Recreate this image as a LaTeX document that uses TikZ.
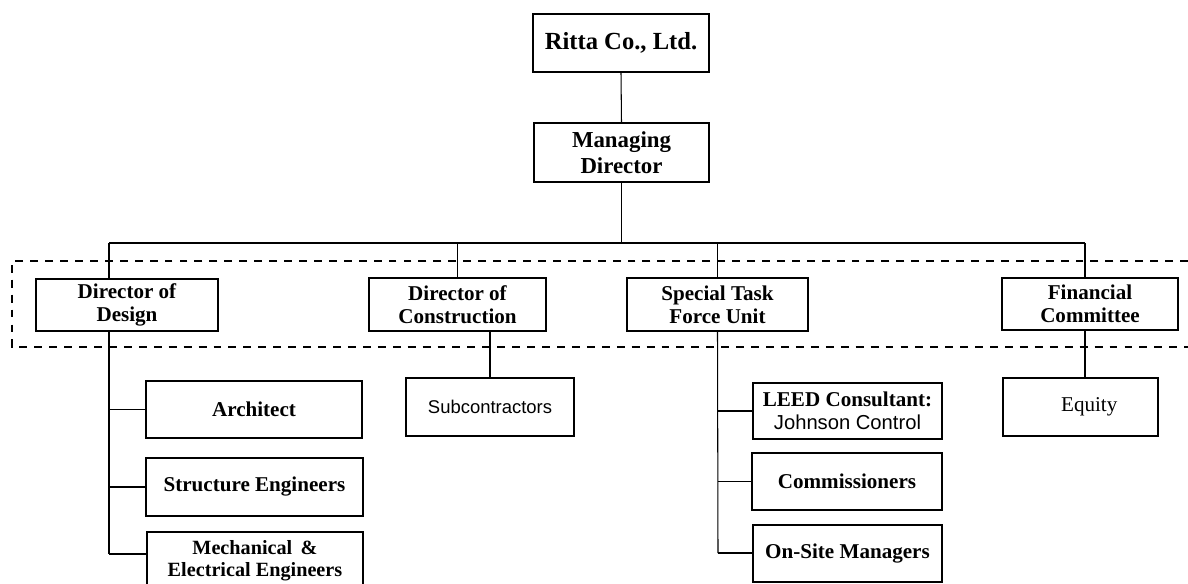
\documentclass[tikz,border=0pt]{standalone}
\usepackage{fontspec}
\setmainfont{Liberation Serif}
\newfontfamily\sansf{Liberation Sans}
\begin{document}
\begin{tikzpicture}[x=0.02cm,y=-0.02cm,
  bx/.style={draw, line width=0.7pt, inner sep=1pt, align=center,
    font=\bfseries\fontsize{12}{13.3}\selectfont},
  sz/.style 2 args={minimum width=#1*0.02cm, minimum height=#2*0.02cm},
  ln/.style={line width=0.6pt},
  dsh/.style={line width=0.6pt, dash pattern=on 4.5pt off 4pt}]
\useasboundingbox (0,0) rectangle (1188,584);

% top
\node[bx, sz={176}{58}, font=\bfseries\fontsize{14}{16}\selectfont] (ritta) at (621,43) {Ritta Co., Ltd.};
\node[bx, sz={175}{59}, font=\bfseries\fontsize{13}{15}\selectfont] (md) at (621.5,152.5) {Managing\\Director};

% directors
\node[bx, sz={182}{52}] (dd) at (127,305) {Director of\\Design};
\node[bx, sz={177}{53}] (dc) at (457.5,304.5) {Director of\\Construction};
\node[bx, sz={181}{53}] (st) at (717.5,304.5) {Special Task\\Force Unit};
\node[bx, sz={176}{52}] (fc) at (1090,304) {Financial\\Committee};

% design children
\node[bx, sz={216}{57}] (arch) at (254,409.5) {Architect};
\node[bx, sz={217}{58}] (struct) at (254.5,487) {Structure Engineers};
\node[bx, sz={216}{58}, font=\bfseries\fontsize{11.5}{12.5}\selectfont] (mech) at (255,561) {Mechanical \,\&\\Electrical Engineers};

% construction child
\node[bx, sz={168}{58}, font=\sansf\fontsize{10.5}{12}\selectfont] (sub) at (490,407) {Subcontractors};

% special task children
\node[bx, sz={189}{56}] (leed) at (847.5,411) {LEED Consultant:\\{\sansf\mdseries\fontsize{11.5}{13}\selectfont Johnson Control}};
\node[bx, sz={190}{57}] (comm) at (847,481.5) {Commissioners};
\node[bx, sz={189}{57}] (onsite) at (847.5,553.5) {On-Site Managers};

% financial child
\node[bx, sz={155}{58}, font=\fontsize{12}{13}\selectfont] (eq) at (1080.5,407) {\hspace*{0.35cm}Equity};

% coordinates
\coordinate (busL) at (109,243);
\coordinate (busR) at (1085,243);
\coordinate (ddEnd) at (109,554);
\coordinate (stEnd) at (718,553);
\coordinate (fcB) at (1085,330);
\coordinate (eqT) at (1085,378);
\coordinate (ddB) at (109,331);
\coordinate (ddT) at (109,279);

% connectors
\draw[ln] (ritta.south) -- (md.north);
\draw[ln] (md.south) -- (md.south |- busL);
\draw[ln] (busL) -- (busR);
\draw[ln] (busL) -- (ddT);
\draw[ln] (dc.north |- busL) -- (dc.north);
\draw[ln] (st.north |- busL) -- (st.north);
\draw[ln] (busR) -- (fc.north -| busR);

\draw[ln] (ddB) -- (ddEnd);
\draw[ln] (ddB |- arch.west) -- (arch.west);
\draw[ln] (ddB |- struct.west) -- (struct.west);
\draw[ln] (ddEnd) -- (ddEnd -| mech.west);

\draw[ln] (sub.north |- dc.south) -- (sub.north);

\draw[ln] (st.south) -- (stEnd);
\draw[ln] (stEnd |- leed.west) -- (leed.west);
\draw[ln] (stEnd |- comm.west) -- (comm.west);
\draw[ln] (stEnd) -- (onsite.west |- stEnd);

\draw[ln] (fcB) -- (eqT);

% dashed band
\draw[dsh] (1188,261) -- (12,261) -- (12,347) -- (1188,347);
\end{tikzpicture}
\end{document}
